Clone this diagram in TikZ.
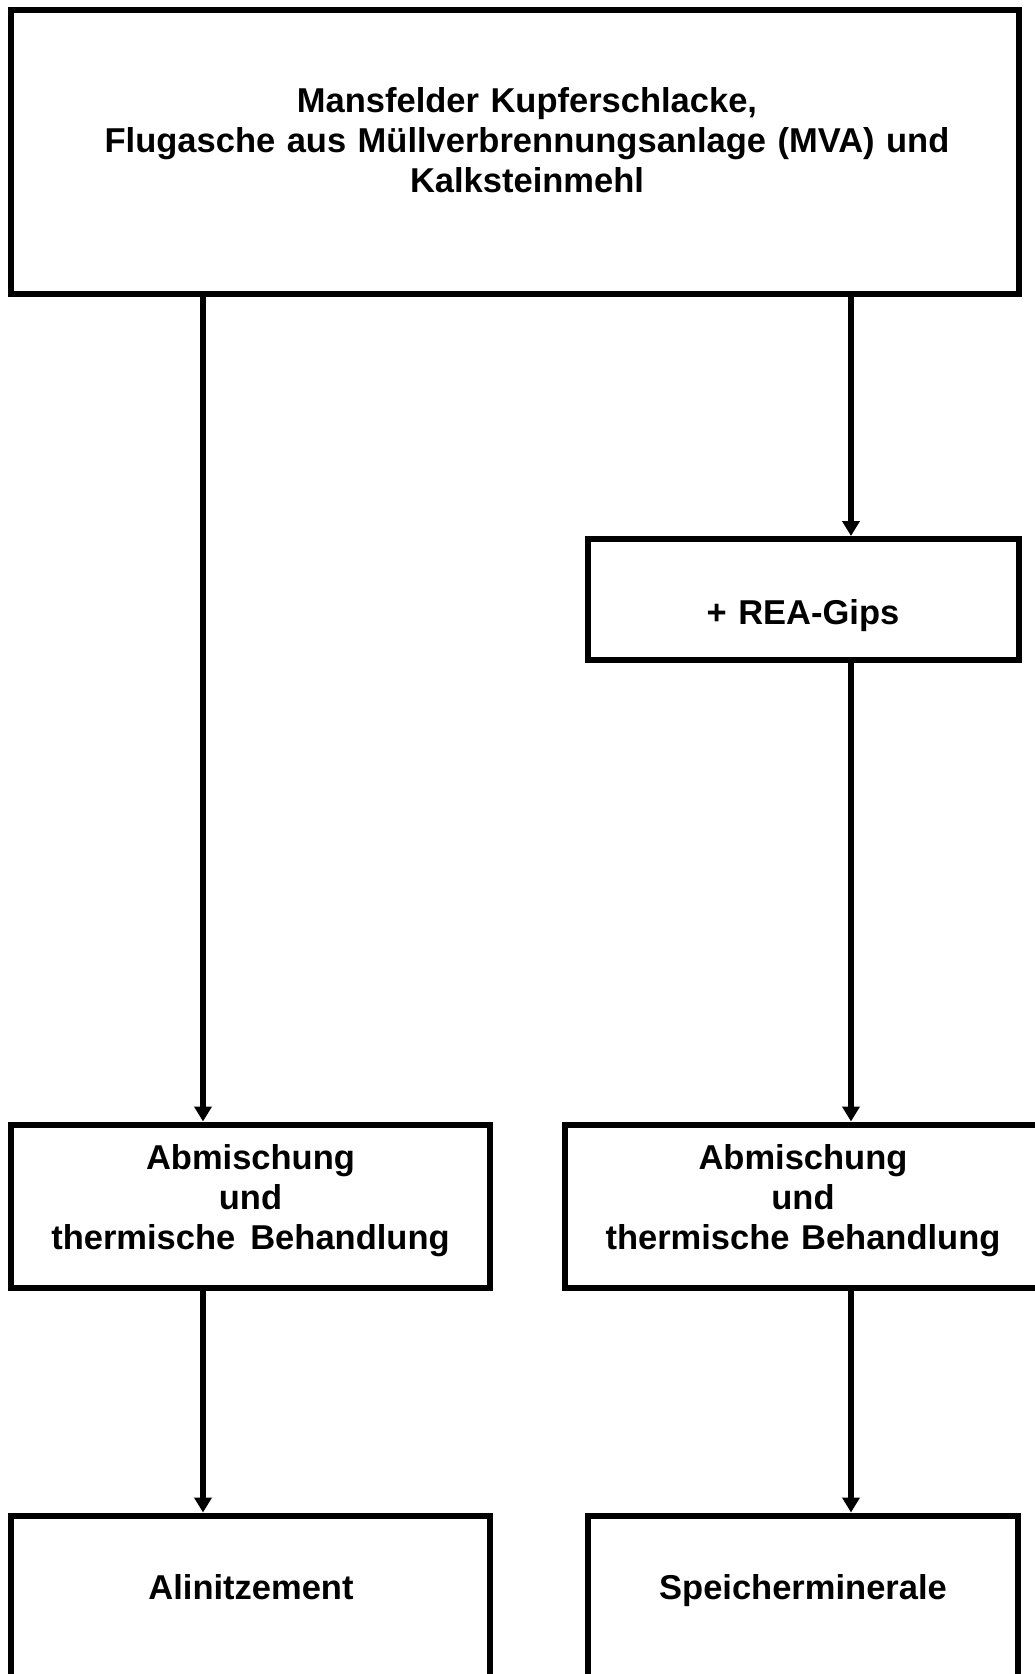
\documentclass[tikz,border=0pt]{standalone}
\usepackage{fontspec}
\setmainfont{Liberation Sans}
\usetikzlibrary{arrows.meta}
\tikzset{
  boxnode/.style={draw=black, line width=6pt, rectangle, inner sep=0pt, fill=white},
  lbl/.style={anchor=base, align=center, inner sep=0pt, text width=#1,
    font=\fontsize{34.5}{40}\selectfont\bfseries},
  lbl/.default=480pt,
  arr/.style={draw=black, line width=6pt, -{Triangle[width=17pt,length=15pt]}}
}
\begin{document}
\begin{tikzpicture}[x=1pt,y=-1pt]
\useasboundingbox (0,0) rectangle (1035,1674);
\clip (0,0) rectangle (1035,1674);
\fill[white] (0,0) rectangle (1035,1674);
% columns of the connectors
\coordinate (L) at (203,0);
\coordinate (R) at (851,0);
% boxes
\node[boxnode, minimum width=1008pt, minimum height=284pt] (top) at (515,152) {};
\node[boxnode, minimum width=431.5pt, minimum height=121pt] (rea) at (803.25,599.5) {};
\node[boxnode, minimum width=479pt, minimum height=163pt] (midl) at (250.5,1206) {};
\node[boxnode, minimum width=477.5pt, minimum height=163pt] (midr) at (803.25,1206) {};
\node[boxnode, minimum width=479pt, minimum height=220pt] (botl) at (250.5,1625.5) {};
\node[boxnode, minimum width=430pt, minimum height=220pt] (botr) at (803,1625.5) {};
% texts
\node[lbl=1000pt] (ttop) at (527,112.3) {Mansfelder Kupferschlacke,\\Flugasche aus Müllverbrennungsanlage (MVA) und\\Kalksteinmehl};
\node[lbl] (trea) at (803,624) {+ REA-Gips};
\node[lbl] (tmidl) at (250.5,1169.3) {Abmischung\\und\\thermische\hspace{15pt}Behandlung};
\node[lbl] (tmidr) at (803,1169.3) {Abmischung\\und\\thermische Behandlung};
\node[lbl] (tbotl) at (251,1599) {Alinitzement};
\node[lbl] (tbotr) at (803,1599) {Speicherminerale};
% connectors
\draw[arr] (top.south -| L) -- (midl.north -| L);
\draw[arr] (top.south -| R) -- (rea.north -| R);
\draw[arr] (rea.south -| R) -- (midr.north -| R);
\draw[arr] (midl.south -| L) -- (botl.north -| L);
\draw[arr] (midr.south -| R) -- (botr.north -| R);
\end{tikzpicture}
\end{document}
